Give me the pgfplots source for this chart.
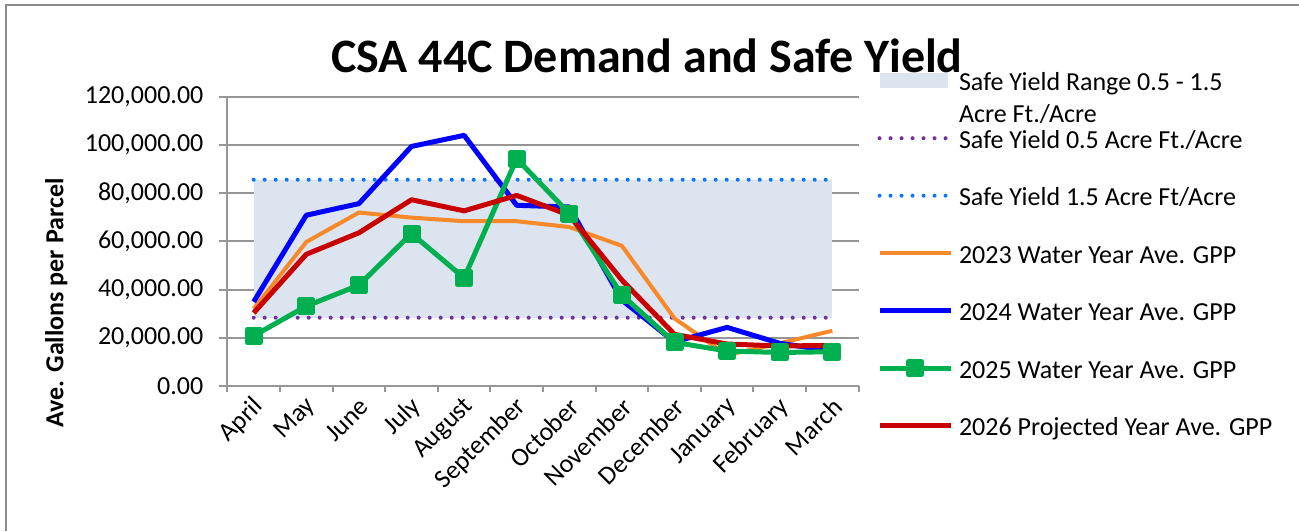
\documentclass[border=0pt]{standalone}
\usepackage{fontspec}
\setmainfont{Carlito}
\usepackage{pgfplots}
\pgfplotsset{compat=1.18}
\usepackage{pgfplotstable}

\definecolor{fillc}{RGB}{220,228,240}
\definecolor{purp}{RGB}{112,48,160}
\definecolor{dotblue}{RGB}{10,116,255}
\definecolor{orng}{RGB}{247,137,43}
\definecolor{blu}{RGB}{0,0,255}
\definecolor{grn}{RGB}{0,176,80}
\definecolor{rd}{RGB}{200,0,0}
\definecolor{gridc}{RGB}{150,150,150}
\definecolor{framec}{RGB}{140,140,140}

% month index, series values
\pgfplotstableread{
m y2023 y2024 y2025 y2026
0 32000 34900 20800 30300
1 59700 70800 33100 54600
2 71900 75600 41800 63500
3 69800 99300 63200 77200
4 68300 103900 44800 72600
5 68300 74900 94200 79000
6 65900 74200 71500 70800
7 58100 35600 37700 43900
8 28000 18300 18100 21400
9 12800 24300 14500 17400
10 17700 17700 13900 16600
11 22900 14500 14200 16800
}\gppdata

\pgfplotstableread{
m lo hi
0 28300 85500
11 28300 85500
}\safedata

\begin{document}
\begin{tikzpicture}
\useasboundingbox (0,0) rectangle (649.5pt,265.5pt);
\draw[framec, line width=1pt] (2.75pt,0pt) -- (2.75pt,262.75pt) -- (649.5pt,262.75pt);
\begin{axis}[
  at={(113.7pt,72.5pt)}, anchor=south west,
  scale only axis, width=315.6pt, height=144.75pt,
  xmin=-0.5, xmax=11.5, ymin=0, ymax=120000,
  axis x line*=bottom, axis y line*=left,
  axis line style={draw=gridc, line width=1pt},
  ymajorgrids, grid style={gridc, line width=1pt},
  ytick={0,20000,40000,60000,80000,100000,120000},
  xtick={0,...,11},
  xticklabels={April,May,June,July,August,September,October,November,December,January,February,March},
  minor xtick={-0.5,0.5,...,11.5},
  major x tick style={draw=none},
  minor x tick style={draw=gridc, line width=1pt},
  y tick style={draw=gridc, line width=1pt},
  minor tick length=3pt,
  major tick length=4pt,
  tick align=outside,
  tick label style={font=\fontsize{13}{15}\selectfont},
  xticklabel style={rotate=45, anchor=east, inner sep=0pt, yshift=-5pt, xshift=-1pt},
  yticklabel style={xshift=-4.5pt},
  /pgf/number format/fixed, /pgf/number format/fixed zerofill,
  /pgf/number format/precision=2, /pgf/number format/1000 sep={,},
  /pgf/number format/assume math mode=true,
  scaled y ticks=false,
  clip=false,
  legend cell align=left,
  legend style={at={(1.0292,1.0891)}, anchor=north west, draw=none, fill=none,
    inner sep=0pt, outer sep=0pt, row sep=18.75pt, column sep=3pt,
    font=\fontsize{13}{16}\selectfont,
    nodes={inner sep=0pt, text height=10pt, text depth=0pt}},
  legend image code/.code={\draw[mark repeat=2,mark phase=2,#1] plot coordinates {(0pt,0pt) (17.75pt,0pt) (35.5pt,0pt)};},
  line join=round,
]
\addplot[fill=fillc, draw=none,
  legend image code/.code={\fill[fillc] (0pt,-3.75pt) rectangle (34pt,3.75pt);}]
  coordinates {(0,28300) (11,28300) (11,85500) (0,85500)} -- cycle;
\addlegendentry{\begin{tabular}[t]{@{}l@{}}Safe Yield Range 0.5 - 1.5\\Acre Ft./Acre\end{tabular}}
\addplot[purp, line width=2pt, line cap=round, dash pattern=on 0pt off 5.5pt] table[x=m, y=lo] {\safedata};
\addlegendentry{Safe Yield 0.5 Acre Ft./Acre}
\addplot[dotblue, line width=2pt, line cap=round, dash pattern=on 0pt off 5.5pt] table[x=m, y=hi] {\safedata};
\addlegendentry{Safe Yield 1.5 Acre Ft/Acre}
\addplot[orng, line width=2pt] table[x=m, y=y2023] {\gppdata};
\addlegendentry{2023 Water Year Ave. GPP}
\addplot[blu, line width=2.5pt] table[x=m, y=y2024] {\gppdata};
\addlegendentry{2024 Water Year Ave. GPP}
\addplot[grn, line width=2.5pt, mark=square*, mark size=3.25pt, mark options={solid}] table[x=m, y=y2025] {\gppdata};
\addlegendentry{2025 Water Year Ave. GPP}
\addplot[rd, line width=2.5pt] table[x=m, y=y2026] {\gppdata};
\addlegendentry{2026 Projected Year Ave. GPP}
\end{axis}
\node[anchor=base, font=\bfseries\fontsize{24}{28}\selectfont] at (323.5pt,229pt) {CSA 44C Demand and Safe Yield};
\node[anchor=base, rotate=90, font=\bfseries\fontsize{13}{15}\selectfont] at (31.65pt,114pt) {Ave. Gallons per Parcel};
\end{tikzpicture}
\end{document}
